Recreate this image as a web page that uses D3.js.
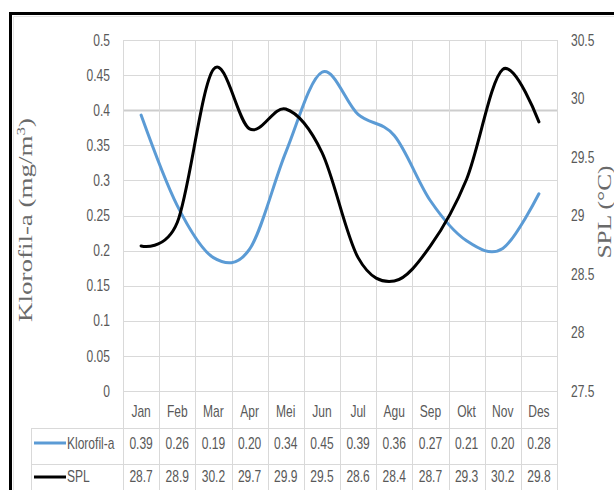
<!DOCTYPE html>
<html><head><meta charset="utf-8">
<script src="https://cdn.jsdelivr.net/npm/d3@7"></script>
<style>body{margin:0;background:#fff}svg{display:block}</style>
</head><body>
<svg id="c" width="614" height="490"></svg>
<script>
// ---- data ----
const months = ["Jan","Feb","Mar","Apr","Mei","Jun","Jul","Agu","Sep","Okt","Nov","Des"];
const klorofil = [0.393,0.264,0.19,0.202,0.34,0.454,0.394,0.364,0.271,0.214,0.203,0.281];
const spl = [28.74,28.94,30.249,29.74,29.91,29.54,28.64,28.44,28.74,29.31,30.249,29.8];
const leftTicks = [0,0.05,0.1,0.15,0.2,0.25,0.3,0.35,0.4,0.45,0.5];
const rightTicks = [27.5,28,28.5,29,29.5,30,30.5];
const seriesNames = ["Klorofil-a","SPL"];
const seriesColors = ["#5B9BD5","#000000"];
const leftTitle = "Klorofil-a (mg/m";
const rightTitle = "SPL (°C)";

// ---- layout ----
const L = 123, R = 557, T = 40, B = 391;
const rowY = [391, 428, 464, 500];
const textBase = [417, 448.5, 482];
const keyY = [443, 477];
const tableLeft = 31;
const SX = 0.82, SY = 1.1;
const sansFont = "'Liberation Sans', Arial, sans-serif";
const txtColor = "#595959";
const gridColor = "#d9d9d9";

const svg = d3.select("#c");
const x = d3.scaleBand().domain(months).range([L, R]).padding(0);
const bw = x.bandwidth();
const yL = d3.scaleLinear().domain([0, 0.5]).range([B, T]);
const yR = d3.scaleLinear().domain([27.5, 30.5]).range([B, T]);

function narrow(sel) {
  sel.each(function () {
    const t = d3.select(this);
    const tx = +t.attr("x") || 0, ty = +t.attr("y") || 0;
    t.attr("x", 0).attr("y", 0)
     .attr("transform", `translate(${tx},${ty}) scale(${SX},${SY})`);
  });
}

// frame
svg.append("path").attr("d", "M10.5,495V13.5H620").attr("fill", "none")
  .attr("stroke", "#000").attr("stroke-width", 3);
svg.append("path").attr("d", "M13.5,495V16.5H620").attr("fill", "none")
  .attr("stroke", "#e4e4e4").attr("stroke-width", 1);

// horizontal gridlines
const grid = svg.append("g");
grid.selectAll("line.h").data(leftTicks.filter(d => d > 0)).join("line")
  .attr("x1", L).attr("x2", R)
  .attr("y1", d => Math.round(yL(d)) + 0.5).attr("y2", d => Math.round(yL(d)) + 0.5)
  .attr("stroke", d => d === 0.4 ? "#cdcdcd" : gridColor)
  .attr("stroke-width", d => d === 0.4 ? 2 : 1);

// vertical gridlines through plot and table
const vx = months.map(m => x(m)).concat([R]);
grid.selectAll("line.v").data(vx).join("line")
  .attr("x1", d => Math.round(d) + 0.5).attr("x2", d => Math.round(d) + 0.5)
  .attr("y1", T).attr("y2", 500)
  .attr("stroke", gridColor).attr("stroke-width", 1);

// table horizontal lines
grid.append("line").attr("x1", L).attr("x2", R).attr("y1", rowY[0] + 0.5).attr("y2", rowY[0] + 0.5)
  .attr("stroke", gridColor);
[rowY[1], rowY[2], rowY[3]].forEach(yy => {
  grid.append("line").attr("x1", tableLeft).attr("x2", R).attr("y1", yy + 0.5).attr("y2", yy + 0.5)
    .attr("stroke", gridColor);
});
grid.append("line").attr("x1", tableLeft + 0.5).attr("x2", tableLeft + 0.5)
  .attr("y1", rowY[1]).attr("y2", 500).attr("stroke", gridColor);

// axes
const axL = svg.append("g").attr("transform", `translate(${L},0)`)
  .call(d3.axisLeft(yL).tickValues(leftTicks).tickSize(0).tickPadding(13).tickFormat(d3.format("~g")));
const axR = svg.append("g").attr("transform", `translate(${R},0)`)
  .call(d3.axisRight(yR).tickValues(rightTicks).tickSize(0).tickPadding(14).tickFormat(d3.format("~g")));
[axL, axR].forEach(a => {
  a.select(".domain").remove();
  a.selectAll("text").attr("font-family", sansFont).attr("font-size", 14.67)
    .attr("fill", txtColor).call(narrow);
});

// series lines (smoothed)
const line = (ys, vals) => d3.line()
  .x((d, i) => x(months[i]) + bw / 2)
  .y(d => ys(d))
  .curve(d3.curveCatmullRom.alpha(0))(vals);
svg.append("path").attr("d", line(yL, klorofil)).attr("fill", "none")
  .attr("stroke", seriesColors[0]).attr("stroke-width", 3).attr("stroke-linecap", "round");
svg.append("path").attr("d", line(yR, spl)).attr("fill", "none")
  .attr("stroke", seriesColors[1]).attr("stroke-width", 3).attr("stroke-linecap", "round");

// data table
const tbl = svg.append("g").attr("font-family", sansFont).attr("font-size", 14.67).attr("fill", txtColor);
tbl.selectAll("text.m").data(months).join("text")
  .attr("x", d => x(d) + bw / 2).attr("y", textBase[0])
  .attr("text-anchor", "middle").text(d => d).call(narrow);

const fmts = [d3.format(".2f"), d3.format(".1f")];
[klorofil, spl].forEach((vals, s) => {
  tbl.selectAll(null).data(vals).join("text")
    .attr("x", (d, i) => x(months[i]) + bw / 2).attr("y", textBase[s + 1])
    .attr("text-anchor", "middle").text(d => fmts[s](d)).call(narrow);
  tbl.append("line").attr("x1", 34).attr("x2", 66).attr("y1", keyY[s]).attr("y2", keyY[s])
    .attr("stroke", seriesColors[s]).attr("stroke-width", 3);
  tbl.append("text").attr("x", 67).attr("y", textBase[s + 1]).text(seriesNames[s]).call(narrow);
});

// axis titles
const lt = svg.append("text").attr("transform", "translate(32,220) rotate(-90)")
  .attr("text-anchor", "middle").attr("font-family", "'Liberation Serif', 'Times New Roman', serif")
  .attr("font-size", 19).attr("fill", "#6a6a6a")
  .attr("textLength", 204).attr("lengthAdjust", "spacingAndGlyphs");
lt.append("tspan").text(leftTitle);
lt.append("tspan").attr("baseline-shift", "super").attr("font-size", 12).text("3");
lt.append("tspan").text(")");

svg.append("text").attr("transform", "translate(611,212) rotate(-90)")
  .attr("text-anchor", "middle").attr("font-family", "'Liberation Serif', 'Times New Roman', serif")
  .attr("font-size", 19).attr("fill", "#6a6a6a")
  .attr("textLength", 93).attr("lengthAdjust", "spacingAndGlyphs")
  .text(rightTitle);
</script>
</body></html>
